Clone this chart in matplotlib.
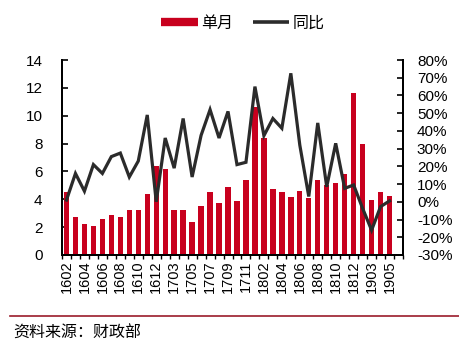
import matplotlib
matplotlib.use("Agg")
import matplotlib.pyplot as plt
from matplotlib.lines import Line2D
import numpy as np

plt.rcParams['font.family'] = ['Liberation Sans', 'Noto Sans CJK SC', 'DejaVu Sans']

months = ['1602','1603','1604','1605','1606','1607','1608','1609','1610','1611','1612',
          '1702','1703','1704','1705','1706','1707','1708','1709','1710','1711','1712',
          '1802','1803','1804','1805','1806','1807','1808','1809','1810','1811','1812',
          '1902','1903','1904','1905']
monthly = [4.5, 2.7, 2.2, 2.1, 2.55, 2.9, 2.7, 3.2, 3.2, 4.35, 6.4,
           6.15, 3.2, 3.2, 2.4, 3.5, 4.5, 3.7, 4.85, 3.85, 5.35, 10.6,
           8.4, 4.75, 4.55, 4.2, 4.6, 4.1, 5.4, 5.0, 5.15, 5.8, 11.65,
           8.0, 3.95, 4.5, 4.25]
yoy = [1, 16, 6, 21, 16, 25.5, 27.5, 14, 23, 49, 0,
       36, 19, 47, 14, 37.5, 52, 36, 51, 21, 22.3, 65,
       37.3, 47, 41.5, 72.5, 32, 3, 44.5, 8.5, 33, 7.6, 9.5,
       -3.7, -16, -2.7, 0.5]
tick_labels = ['1602','1604','1606','1608','1610','1612','1703','1705','1707','1709',
               '1711','1802','1804','1806','1808','1810','1812','1903','1905']

W, H = 459, 351
fig = plt.figure(figsize=(W/100, H/100), dpi=100)
ax = fig.add_axes([62/W, 1-255/H, (403-62)/W, (255-60)/H])
ax2 = ax.twinx()

red = '#C8001E'
dark = '#2b2b2b'
x = np.arange(len(months))
ax.bar(x, monthly, width=0.6, color=red, zorder=2)
ax2.plot(x, yoy, color=dark, lw=2.3, solid_joinstyle='miter', zorder=3)

ax.set_xlim(-0.5, 37.5)
ax.set_ylim(0, 14)
ax.set_yticks(np.arange(0, 15, 2))
ax2.set_ylim(-30, 80)
ax2.set_yticks(np.arange(-30, 81, 10))
ax2.set_yticklabels([f'{v}%' for v in range(-30, 81, 10)])

ax.set_xticks([months.index(m) for m in tick_labels])
ax.set_xticklabels(tick_labels, rotation=90, fontsize=10.5)
ax.set_xticks(np.arange(-0.5, 38, 1), minor=True)
ax.tick_params(axis='x', which='major', length=0, pad=4)
ax.tick_params(axis='x', which='minor', length=3, width=1, direction='out', color='black')
ax.tick_params(axis='y', direction='in', length=4, width=1.2, labelsize=11, pad=14)
ax2.tick_params(axis='y', direction='in', length=4, width=1.2, labelsize=11, pad=10)

for a in (ax, ax2):
    a.spines['top'].set_visible(False)
    for s in ('left', 'right', 'bottom'):
        a.spines[s].set_linewidth(1.4)
        a.spines[s].set_color('black')
ax2.set_zorder(ax.get_zorder() + 1)
ax2.patch.set_visible(False)

handles = [Line2D([], [], color=red, lw=6, solid_capstyle='butt'),
           Line2D([], [], color=dark, lw=2.6, solid_capstyle='butt')]
fig.legend(handles, ['单月', '同比'], loc='center', bbox_to_anchor=(243/W, 1-23/H),
           ncol=2, frameon=False, fontsize=11.5, handlelength=2.3, handletextpad=0.2,
           columnspacing=1.2)

fig.add_artist(Line2D([10/W, 1], [1-316/H, 1-316/H], color='#9B1B2B', lw=1.2))
fig.text(13/W, 1-333/H, '资料来源：财政部', fontsize=11.5, va='center', ha='left')

fig.savefig('out.png', dpi=100)
